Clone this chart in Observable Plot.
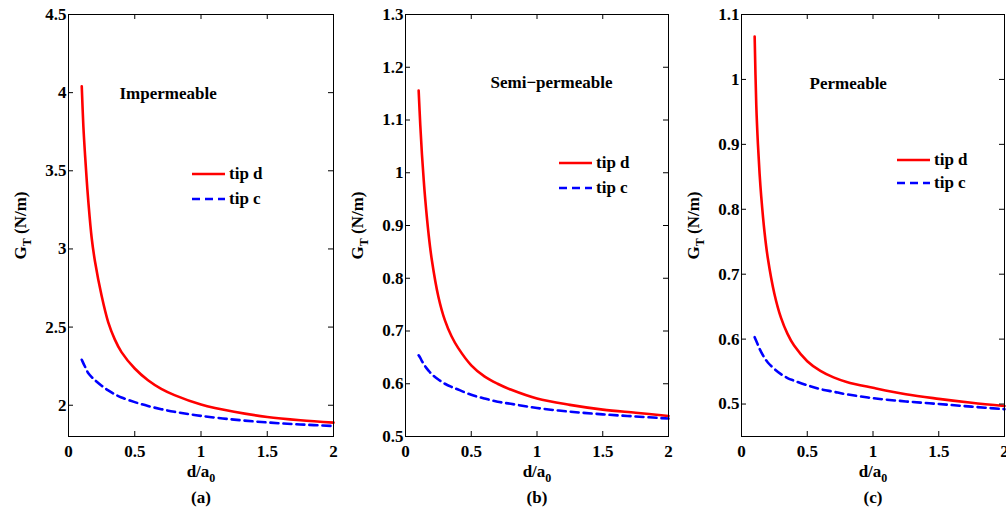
<!DOCTYPE html>
<html>
<head>
<meta charset="utf-8">
<script src="https://cdn.jsdelivr.net/npm/d3@7"></script>
<script src="https://cdn.jsdelivr.net/npm/@observablehq/plot@0.6"></script>
<style>
  html, body { margin: 0; padding: 0; background: #fff; }
  #wrap { position: relative; width: 1006px; height: 508px; overflow: hidden;
          font-family: "Liberation Serif", "Times New Roman", serif; font-weight: bold; }
  #wrap svg.plot { position: absolute; top: 0; overflow: visible; }
  .legend { position: absolute; font-size: 17px; line-height: 20px; white-space: nowrap; }
  .legend .row { position: absolute; left: 0; display: flex; align-items: center; }
  .legend svg { display: block; margin-right: 4px; }
</style>
</head>
<body>
<div id="wrap"></div>
<script>
// ---- data ----
const dGrid = [0.1, 0.1125, 0.125, 0.1375, 0.15, 0.175, 0.2, 0.25, 0.3, 0.35, 0.4, 0.5, 0.6, 0.7, 0.8, 1.0, 1.25, 1.5, 1.75, 2.0];

const impTipD  = [4.04, 3.78, 3.60, 3.44, 3.30, 3.07, 2.92, 2.70, 2.53, 2.42, 2.34, 2.235, 2.16, 2.105, 2.065, 2.005, 1.958, 1.925, 1.904, 1.889];
const impTipC  = [2.291, 2.268, 2.246, 2.224, 2.204, 2.18, 2.16, 2.125, 2.095, 2.07, 2.05, 2.02, 1.995, 1.975, 1.958, 1.932, 1.908, 1.89, 1.877, 1.867];

const semiTipD = [1.156, 1.09, 1.035, 0.99, 0.95, 0.885, 0.835, 0.765, 0.72, 0.69, 0.668, 0.635, 0.614, 0.60, 0.589, 0.572, 0.560, 0.551, 0.545, 0.539];
const semiTipC = [0.654, 0.649, 0.643, 0.638, 0.633, 0.625, 0.618, 0.608, 0.60, 0.594, 0.589, 0.579, 0.572, 0.566, 0.562, 0.554, 0.547, 0.542, 0.538, 0.534];

const permTipD = [1.066, 0.96, 0.90, 0.855, 0.82, 0.765, 0.725, 0.67, 0.633, 0.608, 0.59, 0.566, 0.551, 0.541, 0.534, 0.525, 0.515, 0.508, 0.502, 0.497];
const permTipC = [0.603, 0.597, 0.591, 0.585, 0.58, 0.571, 0.564, 0.554, 0.546, 0.54, 0.536, 0.529, 0.523, 0.519, 0.515, 0.509, 0.504, 0.5, 0.496, 0.492];

const seriesNames = ["tip d", "tip c"];
const panelTitles = ["Impermeable", "Semi\u2212permeable", "Permeable"];
const panelCaptions = ["(a)", "(b)", "(c)"];
const xTicks = [0, 0.5, 1, 1.5, 2];
const yTicksA = [2, 2.5, 3, 3.5, 4, 4.5];
const yTicksB = [0.5, 0.6, 0.7, 0.8, 0.9, 1.0, 1.1, 1.2, 1.3];
const yTicksC = [0.5, 0.6, 0.7, 0.8, 0.9, 1.0, 1.1];
const xLabel = "d/a_{0}";
const yLabel = "G_{T} (N/m)";

// ---- layout / styles ----
const panels = [
  {tipD: impTipD, tipC: impTipC, yDomain: [1.8, 4.5], yTicks: yTicksA,
   left: 0, width: 340, mL: 68, mR: 7, titleDx: 51, titleDy: 79,
   legend: {x: 192, y: 174, gap: 25}},
  {tipD: semiTipD, tipC: semiTipC, yDomain: [0.5, 1.3], yTicks: yTicksB,
   left: 340, width: 335, mL: 65, mR: 7, titleDx: 85, titleDy: 68,
   legend: {x: 559, y: 163, gap: 25}},
  {tipD: permTipD, tipC: permTipC, yDomain: [0.45, 1.1], yTicks: yTicksC,
   left: 674, width: 332, mL: 67, mR: 2, titleDx: 68, titleDy: 69,
   legend: {x: 897, y: 160, gap: 23}}
];
const H = 508, mT = 14, mB = 72;
const FONT = 17;
const TICK = 5;
const fmt = d => String(Math.round(d * 100) / 100);
const RED = "#ff0000", BLUE = "#0000ff";
const DASH = "8,5";

function subscriptify(svg) {
  d3.select(svg).selectAll("text").each(function () {
    const t = this.textContent;
    const m = /^(.*?)_\{(.*?)\}(.*)$/.exec(t);
    if (!m) return;
    const el = d3.select(this);
    el.text(null);
    el.append("tspan").text(m[1]);
    el.append("tspan").attr("dy", "5").attr("font-size", "12px").text(m[2]);
    if (m[3]) el.append("tspan").attr("dy", "-5").text(m[3]);
  });
}

const wrap = document.getElementById("wrap");

panels.forEach((p, i) => {
  const rowsD = dGrid.map((d, j) => ({d, v: p.tipD[j], s: seriesNames[0]}));
  const rowsC = dGrid.map((d, j) => ({d, v: p.tipC[j], s: seriesNames[1]}));
  const frameH = H - mT - mB;
  const frameW = p.width - p.mL - p.mR;

  const chart = Plot.plot({
    width: p.width,
    height: H,
    marginLeft: p.mL,
    marginRight: p.mR,
    marginTop: mT,
    marginBottom: mB,
    style: {fontFamily: "'Liberation Serif', 'Times New Roman', serif", fontWeight: "bold", fontSize: FONT + "px", overflow: "visible", background: "transparent"},
    x: {domain: [0, 2]},
    y: {domain: p.yDomain},
    marks: [
      Plot.line(rowsD, {x: "d", y: "v", stroke: RED, strokeWidth: 2.6, curve: "catmull-rom"}),
      Plot.line(rowsC, {x: "d", y: "v", stroke: BLUE, strokeWidth: 2.6, strokeDasharray: DASH, curve: "catmull-rom"}),
      // inward ticks on all four sides
      Plot.ruleX(xTicks, {x: d => d, insetTop: frameH - TICK, stroke: "#000"}),
      Plot.ruleX(xTicks, {x: d => d, insetBottom: frameH - TICK, stroke: "#000"}),
      Plot.ruleY(p.yTicks, {y: d => d, insetRight: frameW - TICK, stroke: "#000"}),
      Plot.ruleY(p.yTicks, {y: d => d, insetLeft: frameW - TICK, stroke: "#000"}),
      Plot.frame({stroke: "#000", strokeWidth: 1}),
      // tick labels
      Plot.axisX({anchor: "bottom", ticks: xTicks, tickSize: 0, tickPadding: 8, tickFormat: fmt, label: null, fill: "#000"}),
      Plot.axisY({anchor: "left", ticks: p.yTicks, tickSize: 0, tickPadding: 2, tickFormat: fmt, label: null, fill: "#000"}),
      // axis labels, caption, title
      Plot.text([xLabel], {text: d => d, frameAnchor: "bottom", lineAnchor: "middle", dy: 35, fill: "#000"}),
      Plot.text([panelCaptions[i]], {text: d => d, frameAnchor: "bottom", lineAnchor: "middle", dy: 61, fill: "#000"}),
      Plot.text([yLabel], {text: d => d, frameAnchor: "left", textAnchor: "middle", lineAnchor: "middle", dx: -48, rotate: -90, fill: "#000"}),
      Plot.text([panelTitles[i]], {text: d => d, frameAnchor: "top-left", textAnchor: "start", lineAnchor: "middle", dx: p.titleDx, dy: p.titleDy, fill: "#000"})
    ]
  });
  chart.classList.add("plot");
  chart.style.left = p.left + "px";
  subscriptify(chart);
  wrap.appendChild(chart);

  // legend overlay
  const lg = document.createElement("div");
  lg.className = "legend";
  lg.style.left = p.legend.x + "px";
  lg.style.top = (p.legend.y - 10) + "px";
  [[seriesNames[0], RED, null], [seriesNames[1], BLUE, DASH]].forEach(([name, col, dash], k) => {
    const row = document.createElement("div");
    row.className = "row";
    row.style.top = (k * p.legend.gap) + "px";
    row.innerHTML = `<svg width="33" height="20"><line x1="0" x2="33" y1="10" y2="10" stroke="${col}" stroke-width="2.6" ${dash ? `stroke-dasharray="${dash}"` : ""}/></svg><span>${name}</span>`;
    lg.appendChild(row);
  });
  wrap.appendChild(lg);
});
</script>
</body>
</html>
